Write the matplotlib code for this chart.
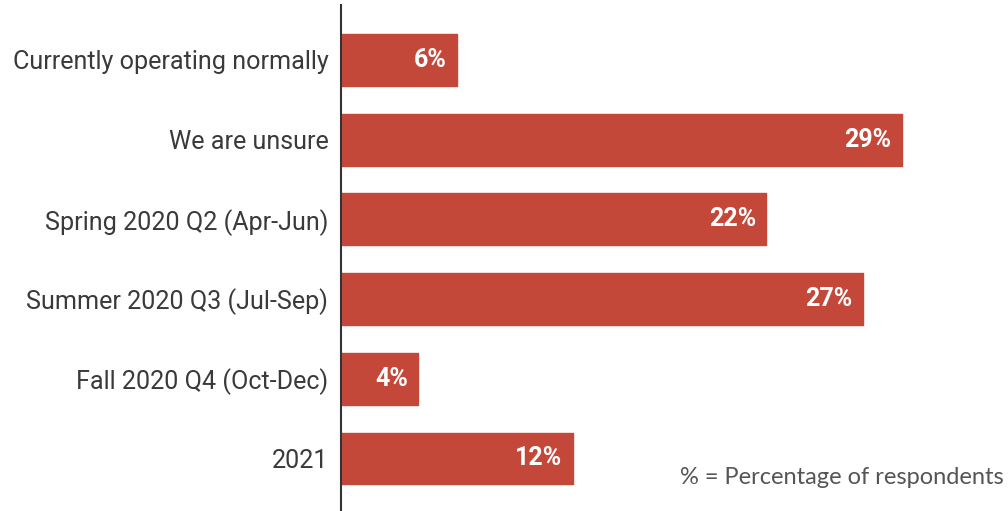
import matplotlib.pyplot as plt

categories = [
    "Currently operating normally",
    "We are unsure",
    "Spring 2020 Q2 (Apr-Jun)",
    "Summer 2020 Q3 (Jul-Sep)",
    "Fall 2020 Q4 (Oct-Dec)",
    "2021",
]
values = [6, 29, 22, 27, 4, 12]
value_labels = ["6%", "29%", "22%", "27%", "4%", "12%"]
footnote = "% = Percentage of respondents"

BAR_COLOR = "#c4483a"
TEXT_COLOR = "#3a3a3a"

fig = plt.figure(figsize=(10.08, 5.11), dpi=100)
ax = fig.add_axes([341 / 1008, 0, 667 / 1008, 506 / 511])

ypos = list(range(len(categories)))
ax.barh(ypos, values, height=0.65, color=BAR_COLOR, edgecolor=BAR_COLOR,
        linewidth=1.0, joinstyle="round", zorder=2)

# value labels sit inside the right end of each bar
for y, v, lab in zip(ypos, values, value_labels):
    ax.annotate(lab, xy=(v, y), xytext=(-7.5, 0), textcoords="offset points",
                ha="right", va="center", color="white", fontsize=18,
                fontweight="bold", family="Roboto", zorder=3)

ax.set_xlim(0, 34.5)
ax.set_ylim(5.66, -0.69)
ax.set_yticks(ypos)
ax.set_yticklabels(categories, fontsize=18.1, family="Roboto", color=TEXT_COLOR)
ax.tick_params(axis="y", length=0, pad=9)
ax.set_xticks([])

for side in ["top", "right", "bottom"]:
    ax.spines[side].set_visible(False)
ax.spines["left"].set_color("#333333")
ax.spines["left"].set_linewidth(1.5)

fig.text(1004 / 1008, 1 - 484 / 511, footnote, ha="right", va="baseline",
         fontsize=17, family="Lato", color="#555555")

fig.savefig("out.png", dpi=100)
